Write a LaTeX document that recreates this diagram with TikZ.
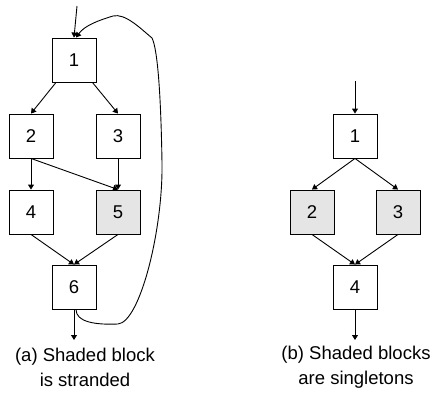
\documentclass[tikz,border=0pt]{standalone}
\usepackage{fontspec}
\setmainfont{Liberation Sans}
\usetikzlibrary{arrows.meta}
\begin{document}
\begin{tikzpicture}[x=1pt, y=-1pt, line width=0.9pt,
  blk/.style={draw, minimum size=44pt, inner sep=0pt, font=\fontsize{18.5}{22}\selectfont},
  shaded/.style={blk, fill=gray!20},
  edge/.style={-{Triangle[length=5pt,width=6pt]}},
  caption/.style={align=center, font=\fontsize{18.5}{25}\selectfont}]
\useasboundingbox (0,0) rectangle (432,399);
% (a) left graph
\coordinate (ain) at (77,6);
\node[blk] (a1) at (74,60){1};
\node[blk] (a2) at (31,136){2};
\node[blk] (a3) at (118,136){3};
\node[blk] (a4) at (31,212){4};
\node[shaded] (a5) at (118,212){5};
\node[blk] (a6) at (74,287){6};
\coordinate (aout) at (74,340);
\draw[edge](ain) -- (a1.north);
\draw[edge](a1) -- (a2.north);
\draw[edge](a1) -- (a3.north);
\draw[edge](a2) -- (a4);
\draw[edge](a2.south) -- (a5.north);
\draw[edge](a3) -- (a5);
\draw[edge](a4.south) -- (a6.north);
\draw[edge](a5.south) -- (a6.north);
\draw[edge](a6) -- (aout);
% back edge from 6 to 1
\draw[edge]([xshift=2pt]a6.south) .. controls (76,322) and (95,325) .. (118,324)
  .. controls (140,322) and (163,230) .. (162,163)
  .. controls (161,100) and (158,50) .. (152,38)
  .. controls (140,28) and (125,13) .. (113,16)
  .. controls (100,20) and (85,25) .. ([xshift=2pt]a1.north);
\node[caption] (acap) at (85,367){(a) Shaded block\\is stranded};
% (b) right graph
\coordinate (bin) at (355,81);
\node[blk] (b1) at (355,136){1};
\node[shaded] (b2) at (312,212){2};
\node[shaded] (b3) at (398,212){3};
\node[blk] (b4) at (355,287){4};
\coordinate (bout) at (355,340);
\draw[edge](bin) -- (b1);
\draw[edge](b1.south) -- (b2.north);
\draw[edge](b1.south) -- (b3.north);
\draw[edge](b2.south) -- (b4.north);
\draw[edge](b3.south) -- (b4.north);
\draw[edge](b4) -- (bout);
\node[caption] (bcap) at (356,367){(b) Shaded blocks\\are singletons};
\end{tikzpicture}
\end{document}
